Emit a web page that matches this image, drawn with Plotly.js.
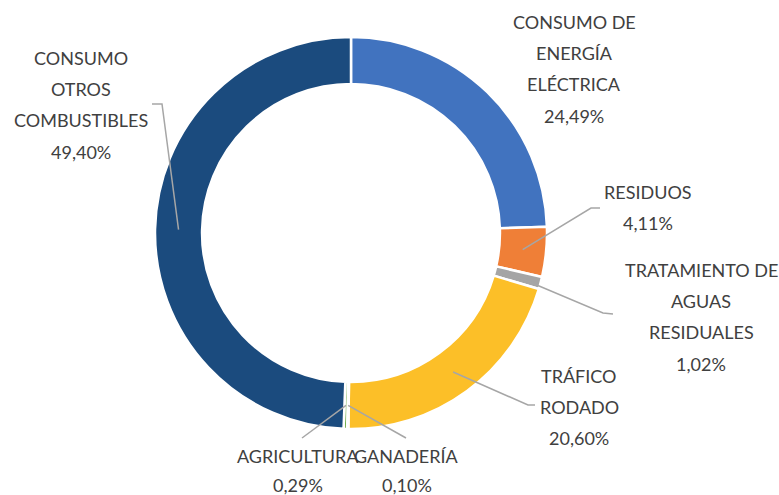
<!DOCTYPE html>
<html><head><meta charset="utf-8">
<script src="https://cdn.plot.ly/plotly-3.0.1.min.js"></script>
<style>html,body{margin:0;padding:0;background:#fff}#chart{width:779px;height:495px}</style>
</head><body><div id="chart"></div>
<script>
// ---- data ----
const categories = ["CONSUMO DE ENERGÍA ELÉCTRICA","RESIDUOS","TRATAMIENTO DE AGUAS RESIDUALES","TRÁFICO RODADO","GANADERÍA","AGRICULTURA","CONSUMO OTROS COMBUSTIBLES"];
const labelLines = [["CONSUMO DE","ENERGÍA","ELÉCTRICA"],["RESIDUOS"],["TRATAMIENTO DE","AGUAS","RESIDUALES"],["TRÁFICO","RODADO"],["GANADERÍA"],["AGRICULTURA"],["CONSUMO","OTROS","COMBUSTIBLES"]];
const values = [24.49, 4.11, 1.02, 20.60, 0.10, 0.29, 49.40];
const colors = ["#4173BF","#EF7F37","#A5A5A5","#FCBF28","#5B9BD5","#70AD47","#1B4B7E"];

// ---- layout config (pixel positions of labels / leader elbows) ----
const W = 779, H = 495;
const CX = 351, CY = 233, R = 196, HOLE = 0.76;
const LINE_DY = 31.2;
const place = [
  {x:574, y0:22,  leader:null},
  {x:648, y0:192, leader:[[591,208],[600,208]]},
  {x:701, y0:270, leader:[[603,313],[613,314]]},
  {x:579, y0:376, leader:[[528,405],[535,405]]},
  {x:407, y0:456, dy:28.5, leader:[[406,438]]},
  {x:298, y0:456, dy:28.5, leader:[[302,438]]},
  {x:81,  y0:58,  leader:[[162,104],[152,104]]}
];
const px = x => x / W;
const py = y => 1 - y / H;

const total = values.reduce((a,b)=>a+b,0);
const fmt = v => v.toFixed(2).replace('.', ',') + '%';

const annotations = [];
const shapes = [];
let cum = 0;
const rMid = R * (1 + HOLE) / 2;
values.forEach((v, i) => {
  const f = (cum + v/2) / total;
  cum += v;
  const th = 2 * Math.PI * f;
  const mx = CX + rMid * Math.sin(th);
  const my = CY - rMid * Math.cos(th);
  const p = place[i];
  const dy = p.dy || LINE_DY;
  const lines = labelLines[i].concat([fmt(v)]);
  lines.forEach((t, k) => {
    annotations.push({
      xref:'paper', yref:'paper', x:px(p.x), y:py(p.y0 + k*dy),
      xanchor:'center', yanchor:'middle', showarrow:false, text:t,
      font:{family:'Lato, "Open Sans", sans-serif', size:18, color:'#404040'}
    });
  });
  if (p.leader) {
    let path = 'M ' + px(mx) + ',' + py(my);
    p.leader.forEach(pt => { path += ' L ' + px(pt[0]) + ',' + py(pt[1]); });
    shapes.push({type:'path', xref:'paper', yref:'paper', path:path,
      line:{color:'#A6A6A6', width:1.5}});
  }
});

const trace = {
  type:'pie', labels:categories, values:values, sort:false, direction:'clockwise',
  rotation:0, hole:HOLE, textinfo:'none', showlegend:false,
  hovertemplate:'%{label}<br>%{value:.2f}%<extra></extra>',
  marker:{colors:colors, line:{color:'#ffffff', width:2.5}},
  domain:{x:[px(CX-R), px(CX+R)], y:[py(CY+R), py(CY-R)]}
};

const layout = {
  width:W, height:H, margin:{l:0,r:0,t:0,b:0},
  paper_bgcolor:'#ffffff', plot_bgcolor:'#ffffff',
  annotations:annotations, shapes:shapes
};
Plotly.newPlot('chart', [trace], layout, {displayModeBar:false, staticPlot:false});
</script>
</body></html>
